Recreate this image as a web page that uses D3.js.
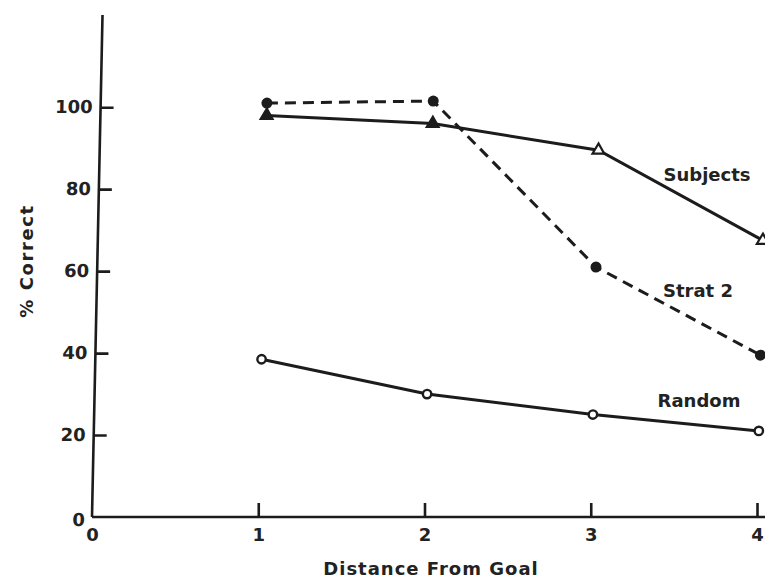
<!DOCTYPE html>
<html><head><meta charset="utf-8">
<script src="https://cdn.jsdelivr.net/npm/d3@7"></script>
<style>
html,body{margin:0;padding:0;background:#fff;}
text{font-family:"DejaVu Sans",sans-serif;font-weight:bold;fill:#222;}
</style></head>
<body>
<svg id="chart" width="765" height="578"></svg>
<script>
const distances = [1, 2, 3, 4];
const subjects = [98, 96, 89.5, 67.5];
const strat2 = [101, 101.5, 61, 39.5];
const random = [38.5, 30, 25, 21];
const xTicks = [0, 1, 2, 3, 4];
const yTicks = [0, 20, 40, 60, 80, 100];
const seriesLabels = ["Subjects", "Strat 2", "Random"];
const xTitle = "Distance From Goal";
const yTitle = "% Correct";

const svg = d3.select("#chart");
const x = d3.scaleLinear().domain([0, 4]).range([92, 757]);
const y = d3.scaleLinear().domain([0, 122.5]).range([517, 15]);
const ink = "#1c1c1c";

// slight tilt of the original scan
const plot = svg.append("g").attr("transform", "translate(0,517) skewX(-1.2) translate(0,-517)");

// y axis
const yAxis = plot.append("g").attr("transform", `translate(${x(0)},0)`)
  .call(d3.axisLeft(y).tickValues(yTicks).tickFormat(d3.format("d")).tickSize(-13).tickSizeOuter(0).tickPadding(8));
yAxis.select(".domain").remove();
yAxis.append("line").attr("x1", 0).attr("x2", 0).attr("y1", y(0)).attr("y2", y(122.5))
  .attr("stroke", ink).attr("stroke-width", 2.6);
yAxis.selectAll(".tick line").attr("stroke", ink).attr("stroke-width", 2.6)
  .filter(d => d === 0).remove();
yAxis.selectAll(".tick text").style("font-size", "18px").attr("fill", "#222");
yAxis.selectAll(".tick").filter(d => d === 0).select("text").attr("dx", 1).attr("dy", "0.48em");

// x axis
const xAxis = svg.append("g").attr("transform", `translate(0,${y(0)})`)
  .call(d3.axisBottom(x).tickValues(xTicks).tickFormat(d3.format("d")).tickSize(-14).tickSizeOuter(0).tickPadding(11));
xAxis.select(".domain").remove();
xAxis.append("line").attr("x1", x(0)).attr("x2", 765).attr("y1", 0).attr("y2", 0)
  .attr("stroke", ink).attr("stroke-width", 2.6);
xAxis.selectAll(".tick line").attr("stroke", ink).attr("stroke-width", 2.6)
  .filter(d => d === 0).remove();
xAxis.selectAll(".tick text").style("font-size", "18px").attr("fill", "#222");

// lines
const line = d3.line().x((d, i) => x(distances[i])).y(d => y(d));
plot.append("path").datum(random).attr("d", line).attr("fill", "none")
  .attr("stroke", ink).attr("stroke-width", 3);
plot.append("path").datum(subjects).attr("d", line).attr("fill", "none")
  .attr("stroke", ink).attr("stroke-width", 3);
plot.append("path").datum(strat2).attr("d", line).attr("fill", "none")
  .attr("stroke", ink).attr("stroke-width", 3).attr("stroke-dasharray", "11,7");

// markers
plot.selectAll(".rnd").data(random).enter().append("circle")
  .attr("cx", (d, i) => x(distances[i])).attr("cy", d => y(d)).attr("r", 4.2)
  .attr("fill", "#fff").attr("stroke", ink).attr("stroke-width", 2.4);
plot.selectAll(".st").data(strat2).enter().append("circle")
  .attr("cx", (d, i) => x(distances[i])).attr("cy", d => y(d)).attr("r", 5.5)
  .attr("fill", ink);
const tri = d3.symbol().type(d3.symbolTriangle).size(60);
plot.selectAll(".sub").data(subjects).enter().append("path")
  .attr("d", tri).attr("transform", (d, i) => `translate(${x(distances[i])},${y(d)})`)
  .attr("fill", (d, i) => i < 2 ? ink : "#fff").attr("stroke", ink).attr("stroke-width", 2.2);

// series labels
const labelPos = [[707, 181], [698, 297], [699, 407]];
svg.selectAll(".slab").data(seriesLabels).enter().append("text")
  .attr("x", (d, i) => labelPos[i][0]).attr("y", (d, i) => labelPos[i][1])
  .attr("text-anchor", "middle").style("font-size", "18px")
  .text(d => d);

// axis titles
svg.append("text").attr("x", 431).attr("y", 575).attr("text-anchor", "middle")
  .style("font-size", "18px").style("letter-spacing", "1px").text(xTitle);
svg.append("text").attr("transform", "translate(33,261) rotate(-90)").attr("text-anchor", "middle")
  .style("font-size", "18px").style("letter-spacing", "1.6px").text(yTitle);
</script>
</body></html>
